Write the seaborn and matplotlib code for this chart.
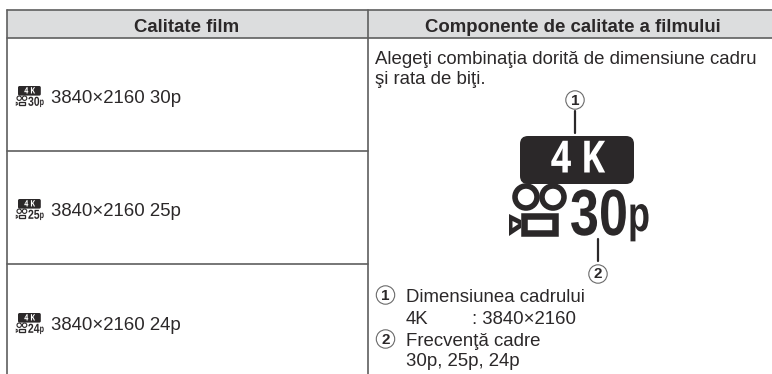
import matplotlib
matplotlib.use('Agg')
import matplotlib.pyplot as plt
from matplotlib.patches import Rectangle, Circle, FancyBboxPatch, Polygon
from matplotlib.patheffects import AbstractPathEffect
from matplotlib.transforms import Affine2D
import seaborn as sns

# Table content
headers = ['Calitate film', 'Componente de calitate a filmului']
rates = ['30', '25', '24']
row_labels = ['3840×2160 30p', '3840×2160 25p', '3840×2160 24p']
intro_lines = ['Alegeţi combinaţia dorită de dimensiune cadru', 'şi rata de biţi.']
size_title = 'Dimensiunea cadrului'
size_key = '4K'
size_value = ': 3840×2160'
rate_title = 'Frecvenţă cadre'
rate_values = '30p, 25p, 24p'

sns.set_theme(style='white')
plt.rcParams['font.family'] = ['Liberation Sans', 'DejaVu Sans']

INK = '#2b2829'
LINE = '#5f5f5f'
BODY = 13.4

fig = plt.figure(figsize=(7.72, 3.74), dpi=100)
ax = fig.add_axes([0, 0, 1, 1])
ax.set_xlim(0, 772)
ax.set_ylim(374, 0)
ax.axis('off')


class Squeeze(AbstractPathEffect):
    # narrows a text around x0, the icon lettering is a condensed face
    def __init__(self, sx, x0):
        super().__init__()
        self.sx = sx
        self.x0 = x0

    def draw_path(self, renderer, gc, tpath, affine, rgbFace=None):
        squeeze = Affine2D().translate(-self.x0, 0).scale(self.sx, 1).translate(self.x0, 0)
        renderer.draw_path(gc, tpath, affine + squeeze, rgbFace)


def movie_icon(x, y, s, rate):
    # x, y is the top left of the icon, s the scale (1 = big picture)
    ax.add_patch(FancyBboxPatch((x + 6*s, y), 114*s, 48*s, boxstyle=f'round,pad=0,rounding_size={8*s}',
                                fc=INK, ec=INK, lw=0))
    ax.text(x + 64*s, y + 25*s, '4 K', color='white', fontsize=32*s, fontweight='bold',
            ha='center', va='center', family=['Open Sans', 'DejaVu Sans'],
            path_effects=[Squeeze(0.82, x + 64*s)])
    # camera reels
    for cx in (12, 39):
        ax.add_patch(Circle((x + cx*s, y + 61*s), 11*s, fc='white', ec=INK, lw=4*s))
    # camera body and lens
    ax.add_patch(Rectangle((x + 10*s, y + 79.5*s), 31*s, 17*s, fc='white', ec=INK, lw=4.7*s))
    ax.add_patch(Polygon([(x - 5*s, y + 78*s), (x + 7*s, y + 84*s), (x + 7*s, y + 92*s), (x - 5*s, y + 100*s)],
                         closed=True, fc=INK, ec=INK, lw=0))
    ax.add_patch(Polygon([(x - 1.5*s, y + 85*s), (x + 4.5*s, y + 88*s), (x - 1.5*s, y + 92*s)],
                         closed=True, fc='white', ec='white', lw=0))
    # digits hang off the right anchor so their box stays clear of the p
    ax.text(x + 114*s, y + 99*s, rate, color=INK, fontsize=47*s, fontweight='bold', ha='right', va='baseline',
            path_effects=[Squeeze(0.8, x + 114*s)])
    ax.text(x + 114*s, y + 95*s, 'p', color=INK, fontsize=36*s, fontweight='bold', ha='left', va='baseline',
            path_effects=[Squeeze(0.72, x + 114*s)])


def numbered(cx, cy, label, r=9.2, size=11):
    ax.add_patch(Circle((cx, cy), r, fc='white', ec='#6a6a6a', lw=0.8))
    ax.text(cx, cy + 0.5, label, color=INK, fontsize=size, fontweight='bold', ha='center', va='center')


# header band and rules
ax.add_patch(Rectangle((6.5, 10), 765.5, 27.5, fc='#dcddde', ec='none'))
ax.plot([6.5, 772], [10, 10], color=LINE, lw=1.2)
ax.plot([6.5, 772], [37.5, 37.5], color=LINE, lw=1.2)
ax.plot([6.5, 6.5], [10, 374], color=LINE, lw=1.2)
ax.plot([368, 368], [10, 374], color=LINE, lw=1.2)
for y in [151, 264]:
    ax.plot([6.5, 368], [y, y], color=LINE, lw=1.2)

ax.text(187, 32, headers[0], color=INK, fontsize=BODY, fontweight='bold', ha='center', va='baseline')
ax.text(573, 32, headers[1], color=INK, fontsize=BODY, fontweight='bold', ha='center', va='baseline')

for y, rate, label in zip([96, 209, 323], rates, row_labels):
    movie_icon(16.8, y - 10, 0.2, rate)
    ax.text(51, y + 7, label, color=INK, fontsize=BODY, ha='left', va='baseline')

ax.text(375, 64, intro_lines[0], color=INK, fontsize=BODY, ha='left', va='baseline')
ax.text(375, 84, intro_lines[1], color=INK, fontsize=BODY, ha='left', va='baseline')

# large movie quality icon with its two callouts
movie_icon(514, 136, 1, rates[0])
ax.plot([575, 575], [111, 133], color=INK, lw=1.6)
ax.plot([598, 598], [239, 261], color=INK, lw=1.6)
numbered(575, 100, '1')
numbered(598, 274, '2')

numbered(385.5, 295, '1')
ax.text(406, 302.5, size_title, color=INK, fontsize=BODY, ha='left', va='baseline')
ax.text(406, 324.5, size_key, color=INK, fontsize=BODY, ha='left', va='baseline')
ax.text(472, 324.5, size_value, color=INK, fontsize=BODY, ha='left', va='baseline')
numbered(385.5, 339, '2')
ax.text(406, 345.5, rate_title, color=INK, fontsize=BODY, ha='left', va='baseline')
ax.text(406, 366, rate_values, color=INK, fontsize=BODY, ha='left', va='baseline')

fig.savefig('out.png', dpi=100)
plt.close(fig)
